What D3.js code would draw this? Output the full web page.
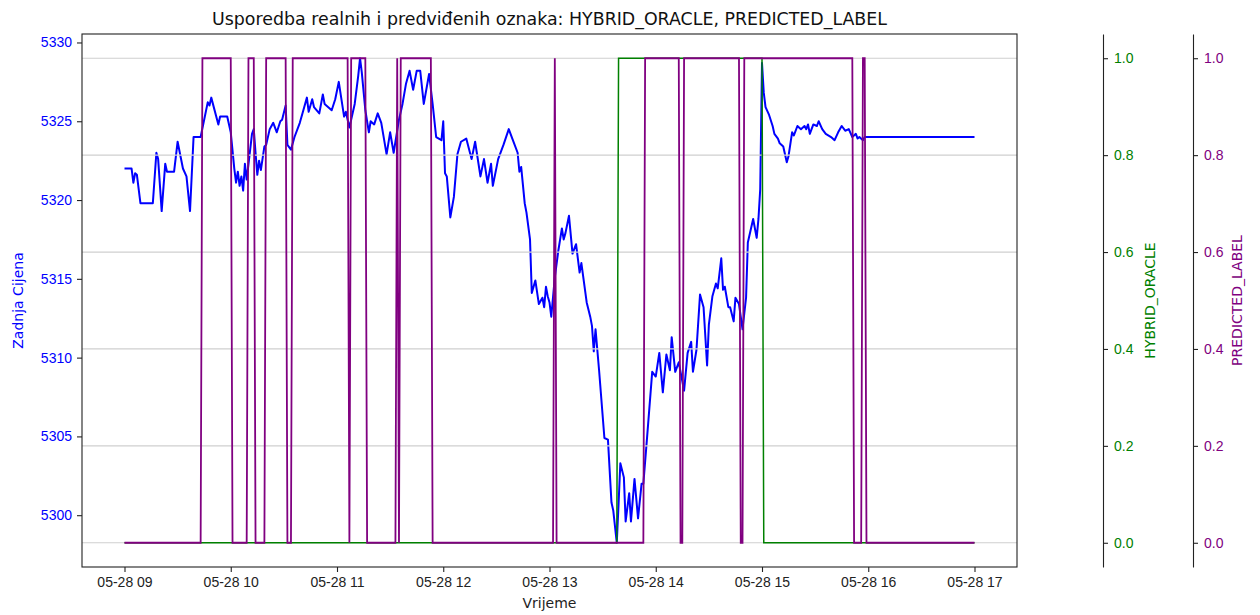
<!DOCTYPE html>
<html>
<head>
<meta charset="utf-8">
<script src="https://cdn.jsdelivr.net/npm/d3@7"></script>
<style>
  body { margin: 0; background: #fff; }
  svg { font-family: "DejaVu Sans", sans-serif; display: block; }
</style>
</head>
<body>
<div id="chart"></div>
<script>
// podaci očitani sa slike (minute od 09:00)
const sessionStart = "2025-05-28 09:00";

const priceMinutes = [0, 4, 5, 6, 7, 9, 16, 18, 19, 21, 23, 24, 28, 30, 33, 35, 37, 39, 43, 47,
  48, 49, 53, 54, 58, 60, 62, 63, 64, 65, 66, 67, 68, 69, 72, 73, 74, 75, 76, 77,
  79, 80, 82, 84, 86, 88, 89, 91, 92, 94, 96, 99, 101, 103, 104, 106, 107, 110, 112, 113,
  117, 119, 121, 124, 125, 127, 130, 132, 133, 134, 136, 138, 139, 141, 143, 145, 148, 150, 152, 155,
  157, 159, 161, 163, 165, 167, 169, 172, 174, 176, 179, 180, 181, 182, 184, 186, 188, 190, 193, 196,
  198, 201, 203, 205, 207, 208, 211, 214, 217, 219, 222, 223, 224, 226, 227, 229, 230, 232, 234, 236,
  237, 238, 239, 240, 241, 243, 245, 247, 248, 249, 251, 253, 255, 257, 258, 261, 263, 264, 265, 266,
  268, 271, 273, 275, 276, 278, 279, 280, 282, 283, 285, 286, 288, 290, 292, 293, 295, 298, 300, 302,
  304, 306, 308, 309, 311, 313, 316, 318, 320, 321, 323, 325, 327, 329, 330, 332, 334, 335, 337, 338,
  339, 341, 342, 344, 345, 347, 349, 351, 352, 355, 357, 358, 359, 360, 361, 362, 364, 366, 367, 369,
  370, 372, 374, 375, 377, 378, 380, 382, 384, 385, 386, 387, 389, 391, 392, 394, 396, 399, 401, 403,
  405, 407, 409, 411, 413, 414, 415, 417, 418, 480];

const prices = [5322.0, 5322.0, 5321.1, 5321.7, 5321.6, 5319.8, 5319.8, 5323.0, 5322.6, 5319.3, 5322.3, 5321.8, 5321.8, 5323.7, 5322.0, 5321.5, 5319.3, 5324.0, 5324.0, 5326.2,
  5326.0, 5326.5, 5324.8, 5325.3, 5325.3, 5324.3, 5322.0, 5321.1, 5321.8, 5320.9, 5321.5, 5320.6, 5322.3, 5321.3, 5324.2, 5324.5, 5323.0, 5321.6, 5322.5, 5321.9,
  5323.4, 5323.5, 5324.5, 5324.9, 5324.3, 5325.0, 5325.1, 5326.0, 5323.5, 5323.2, 5324.0, 5324.9, 5325.7, 5326.5, 5325.6, 5326.4, 5325.9, 5325.5, 5326.7, 5326.1,
  5325.7, 5326.4, 5327.5, 5325.3, 5325.6, 5324.6, 5326.1, 5327.9, 5329.0, 5328.1, 5325.7, 5324.3, 5325.0, 5324.8, 5325.5, 5324.9, 5322.9, 5324.3, 5323.0, 5325.1,
  5326.1, 5327.4, 5328.2, 5327.0, 5328.2, 5328.2, 5326.1, 5328.0, 5326.1, 5324.0, 5323.8, 5325.0, 5321.7, 5321.5, 5318.9, 5320.2, 5322.9, 5323.7, 5323.9, 5322.6,
  5323.7, 5321.5, 5322.6, 5321.1, 5322.3, 5320.9, 5322.6, 5323.5, 5324.5, 5323.9, 5323.0, 5321.8, 5322.1, 5319.8, 5319.2, 5317.5, 5314.1, 5314.9, 5313.4, 5313.8,
  5313.2, 5314.5, 5313.9, 5313.5, 5312.6, 5315.1, 5316.8, 5318.2, 5317.5, 5317.9, 5319.0, 5316.6, 5317.2, 5315.4, 5316.0, 5313.5, 5312.6, 5312.0, 5310.4, 5311.8,
  5309.2, 5304.9, 5304.8, 5300.8, 5300.3, 5298.25, 5300.7, 5303.3, 5302.4, 5299.6, 5301.4, 5299.6, 5302.3, 5299.8, 5302.0, 5302.0, 5304.8, 5309.1, 5308.8, 5310.3,
  5307.8, 5310.2, 5309.2, 5311.3, 5309.1, 5309.7, 5307.9, 5310.3, 5311.0, 5309.1, 5310.5, 5314.0, 5313.2, 5309.5, 5312.1, 5313.9, 5314.7, 5314.4, 5316.3, 5314.3,
  5314.5, 5313.2, 5313.2, 5312.3, 5313.8, 5313.4, 5311.8, 5313.8, 5317.3, 5318.8, 5317.6, 5318.8, 5320.7, 5328.7, 5326.8, 5325.9, 5325.4, 5324.7, 5324.2, 5323.9,
  5323.6, 5323.4, 5322.4, 5322.8, 5324.3, 5324.1, 5324.7, 5324.5, 5324.7, 5324.5, 5324.8, 5324.2, 5324.8, 5324.7, 5325.0, 5324.5, 5324.2, 5324.0, 5323.8, 5324.3,
  5324.7, 5324.4, 5324.5, 5324.0, 5324.2, 5323.9, 5324.0, 5323.8, 5324.0, 5324.0];

const oracleMinutes = [0, 278, 279, 360, 361, 480];
const oracleValues  = [0, 0, 1, 1, 0, 0];

const predictedMinutes = [0, 43, 44, 60, 61, 69, 70, 73, 74, 79, 80, 91, 92, 94, 95, 126, 127, 128, 136, 137,
  153, 154, 155, 156, 173, 174, 242, 243, 244, 293, 294, 313, 314, 315, 316, 347, 348, 349, 350, 411,
  412, 416, 417, 418, 419, 480];
const predictedValues  = [0, 0, 1, 1, 0, 0, 1, 1, 0, 0, 1, 1, 0, 0, 1, 1, 0, 1, 1, 0,
  0, 1, 0, 1, 1, 0, 0, 1, 0, 0, 1, 1, 0, 0, 1, 1, 0, 0, 1, 1,
  0, 0, 1, 1, 0, 0];

const titleText = "Usporedba realnih i predviđenih oznaka: HYBRID_ORACLE, PREDICTED_LABEL";

const width = 1260, height = 615;
const plotL = 82, plotR = 1017, plotT = 34, plotB = 567;
const greenAxisX = 1103, purpleAxisX = 1193;
const priceColor = "blue", oracleColor = "green", predColor = "purple";

const t0 = d3.timeParse("%Y-%m-%d %H:%M")(sessionStart);
const at = m => d3.timeMinute.offset(t0, m);

const priceData = priceMinutes.map((m, i) => ({ t: at(m), v: prices[i] }));
const oracleData = oracleMinutes.map((m, i) => ({ t: at(m), v: oracleValues[i] }));
const predData = predictedMinutes.map((m, i) => ({ t: at(m), v: predictedValues[i] }));

// margine od 5% kao u matplotlibu
const span = d3.max(priceMinutes) - d3.min(priceMinutes);
const x = d3.scaleTime()
  .domain([at(d3.min(priceMinutes) - span * 0.05), at(d3.max(priceMinutes) + span * 0.05)])
  .range([plotL, plotR]);

const [pMin, pMax] = d3.extent(prices);
const pPad = (pMax - pMin) * 0.05;
const y = d3.scaleLinear().domain([pMin - pPad, pMax + pPad]).range([plotB, plotT]);
const y2 = d3.scaleLinear().domain([-0.05, 1.05]).range([plotB, plotT]);

const svg = d3.select("#chart").append("svg")
  .attr("width", width).attr("height", height);

svg.append("rect").attr("width", width).attr("height", height).attr("fill", "#fff");

const line = (ys) => d3.line().x(d => x(d.t)).y(d => ys(d.v));

// cijena
svg.append("path").datum(priceData)
  .attr("fill", "none").attr("stroke", priceColor).attr("stroke-width", 2)
  .attr("stroke-linejoin", "round")
  .attr("d", line(y));

// mreža (od desnih osi)
svg.append("g").selectAll("line").data(y2.ticks(5)).join("line")
  .attr("x1", plotL).attr("x2", plotR)
  .attr("y1", d => y2(d)).attr("y2", d => y2(d))
  .attr("stroke", "#cfcfcf").attr("stroke-width", 1.2);

svg.append("path").datum(oracleData)
  .attr("fill", "none").attr("stroke", oracleColor).attr("stroke-width", 1.5)
  .attr("d", line(y2));

svg.append("path").datum(predData)
  .attr("fill", "none").attr("stroke", predColor).attr("stroke-width", 1.8)
  .attr("d", line(y2));

// okvir
svg.append("rect")
  .attr("x", plotL).attr("y", plotT).attr("width", plotR - plotL).attr("height", plotB - plotT)
  .attr("fill", "none").attr("stroke", "#222").attr("stroke-width", 1.1);

const fs = "14px";

// x os
const gx = svg.append("g").attr("transform", `translate(0,${plotB})`)
  .call(d3.axisBottom(x).ticks(d3.timeHour.every(1)).tickFormat(d3.timeFormat("%m-%d %H"))
    .tickSize(5).tickPadding(5));
gx.select(".domain").remove();
gx.selectAll("line").attr("stroke", "#222").attr("stroke-width", 1.1);
gx.selectAll("text").attr("fill", "#222").style("font-size", fs);

// lijeva os cijene
const gy = svg.append("g").attr("transform", `translate(${plotL},0)`)
  .call(d3.axisLeft(y).ticks(7).tickFormat(d3.format("d")).tickSize(5).tickPadding(5));
gy.select(".domain").remove();
gy.selectAll("line").attr("stroke", "#222").attr("stroke-width", 1.1);
gy.selectAll("text").attr("fill", priceColor).style("font-size", fs);

// desne osi oznaka
function labelAxis(xPos, color) {
  const g = svg.append("g").attr("transform", `translate(${xPos},0)`)
    .call(d3.axisRight(y2).ticks(5).tickFormat(d3.format(".1f")).tickSize(5).tickPadding(6).tickSizeOuter(0));
  g.select(".domain").attr("stroke", "#222").attr("stroke-width", 1.1);
  g.selectAll("line").attr("stroke", "#222").attr("stroke-width", 1.1);
  g.selectAll("text").attr("fill", color).style("font-size", fs);
}
labelAxis(greenAxisX, oracleColor);
labelAxis(purpleAxisX, predColor);

// natpisi
const vLabel = (cx, text, color) => svg.append("text")
  .attr("transform", `translate(${cx},${(plotT + plotB) / 2}) rotate(-90)`)
  .attr("text-anchor", "middle").attr("dy", "0.35em")
  .attr("fill", color).style("font-size", fs).text(text);

vLabel(18, "Zadnja Cijena", priceColor);
vLabel(1150, "HYBRID_ORACLE", oracleColor);
vLabel(1237, "PREDICTED_LABEL", predColor);

svg.append("text")
  .attr("x", (plotL + plotR) / 2).attr("y", 608)
  .attr("text-anchor", "middle").attr("fill", "#222").style("font-size", fs)
  .text("Vrijeme");

svg.append("text")
  .attr("x", (plotL + plotR) / 2).attr("y", 25)
  .attr("text-anchor", "middle").attr("fill", "#111").style("font-size", "17.4px")
  .text(titleText);
</script>
</body>
</html>
